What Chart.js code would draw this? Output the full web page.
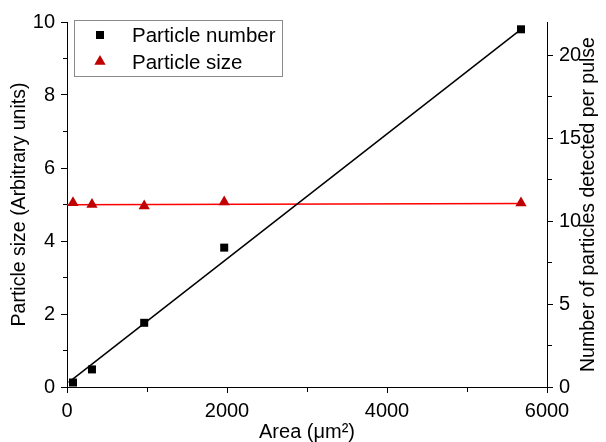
<!DOCTYPE html>
<html>
<head>
<meta charset="utf-8">
<title>Particle number and size vs area</title>
<script src="https://cdn.jsdelivr.net/npm/chart.js@4.4.1/dist/chart.umd.min.js"></script>
<style>
  html, body { margin: 0; padding: 0; background: #fff; }
  #wrap { width: 606px; height: 442px; }
</style>
</head>
<body>
<div id="wrap"><canvas id="areaChart"></canvas></div>
<script>
// values
const areas = [75, 312, 965, 1965, 5675];
const particleNumber = [0.27, 1.06, 3.87, 8.40, 21.56]; // right axis
const particleSize = [5.05, 5.00, 4.96, 5.07, 5.04];    // left axis

// linear fits (end points)
const numberFitX = [20, 5675];
const numberFitY = [0.28, 21.56];
const sizeFitX = [0, 5700];
const sizeFitY = [4.99, 5.03];

// labelled ticks
const xTicks = [0, 2000, 4000, 6000];
const sizeTicks = [0, 2, 4, 6, 8, 10];
const numberTicks = [0, 5, 10, 15, 20];

const legendLabels = ['Particle number', 'Particle size'];
const rightTitle = 'Number of particles detected per pulse';

const FONT = '"Liberation Sans", Arial, sans-serif';

function pts(xs, ys) {
  return xs.map((x, i) => ({ x: x, y: ys[i] }));
}

// short dashes make the unlabelled ticks look like minor ticks
function minorDash(list, fromOuter) {
  return function(c) {
    if (c.tick && list.includes(c.tick.value)) return [];
    return fromOuter ? [0, 2, 10] : [4, 10];
  };
}

const boxLegend = {
  id: 'boxLegend',
  afterDraw(chart) {
    const ctx = chart.ctx;
    ctx.save();
    ctx.strokeStyle = '#8a8a8a';
    ctx.lineWidth = 1;
    ctx.strokeRect(74.5, 20.5, 208, 56);

    ctx.fillStyle = '#000';
    Chart.helpers.drawPoint(ctx, { pointStyle: 'rect', radius: 5.66, borderWidth: 0 }, 100, 35);
    ctx.fillStyle = '#c00000';
    Chart.helpers.drawPoint(ctx, { pointStyle: 'triangle', radius: 6.5, borderWidth: 0 }, 100, 61.5);

    ctx.fillStyle = '#000';
    ctx.font = '20.5px ' + FONT;
    ctx.textAlign = 'left';
    ctx.textBaseline = 'alphabetic';
    ctx.fillText(legendLabels[0], 132, 42);
    ctx.fillText(legendLabels[1], 132, 68.5);

    // right axis title reads bottom to top
    const a = chart.chartArea;
    ctx.translate(589, (a.top + a.bottom) / 2);
    ctx.rotate(-Math.PI / 2);
    ctx.font = '19.5px ' + FONT;
    ctx.textAlign = 'center';
    ctx.textBaseline = 'middle';
    ctx.fillText(rightTitle, 0, 0);
    ctx.restore();
  }
};

function initChart() {
  const ctx = document.getElementById('areaChart').getContext('2d');
  const tickFont = { family: FONT, size: 20 };
  new Chart(ctx, {
    type: 'scatter',
    data: {
      datasets: [{
        label: legendLabels[0],
        data: pts(areas, particleNumber),
        yAxisID: 'y2',
        pointStyle: 'rect',
        pointRadius: 5.66,
        borderWidth: 0,
        backgroundColor: '#000',
        borderColor: '#000',
        order: 1
      }, {
        label: legendLabels[1],
        data: pts(areas, particleSize),
        yAxisID: 'y',
        pointStyle: 'triangle',
        pointRadius: 6.5,
        borderWidth: 0,
        backgroundColor: '#c00000',
        borderColor: '#c00000',
        order: 1
      }, {
        label: 'number fit',
        data: pts(numberFitX, numberFitY),
        yAxisID: 'y2',
        showLine: true,
        pointRadius: 0,
        borderColor: '#000',
        borderWidth: 1.5,
        order: 2
      }, {
        label: 'size fit',
        data: pts(sizeFitX, sizeFitY),
        yAxisID: 'y',
        showLine: true,
        pointRadius: 0,
        borderColor: '#ff0000',
        borderWidth: 1.5,
        order: 2
      }]
    },
    options: {
      responsive: true,
      maintainAspectRatio: false,
      animation: false,
      events: [],
      layout: { padding: { top: 22, left: 0, right: 0, bottom: 0 } },
      plugins: {
        legend: { display: false },
        tooltip: { enabled: false }
      },
      scales: {
        x: {
          type: 'linear',
          position: 'bottom',
          min: 0,
          max: 6000,
          ticks: {
            stepSize: 1000,
            autoSkip: false,
            maxRotation: 0,
            padding: 6,
            color: '#000',
            font: tickFont,
            callback: v => xTicks.includes(v) ? String(v) : ''
          },
          grid: {
            drawOnChartArea: false,
            tickLength: 6,
            tickColor: '#000',
            tickWidth: 1,
            tickBorderDash: minorDash(xTicks, false)
          },
          border: { color: '#000', width: 1 },
          title: {
            display: true,
            text: 'Area (μm²)',
            color: '#000',
            padding: { top: 0, bottom: 0 },
            font: { family: FONT, size: 20, lineHeight: 1 }
          },
          afterFit: s => { s.height = 55; }
        },
        y: {
          type: 'linear',
          position: 'left',
          min: 0,
          max: 10,
          ticks: {
            stepSize: 1,
            autoSkip: false,
            padding: 6,
            color: '#000',
            font: tickFont,
            callback: v => sizeTicks.includes(v) ? String(v) : ''
          },
          grid: {
            drawOnChartArea: false,
            tickLength: 6,
            tickColor: '#000',
            tickWidth: 1,
            tickBorderDash: minorDash(sizeTicks, true)
          },
          border: { color: '#000', width: 1 },
          title: {
            display: true,
            text: 'Particle size (Arbitrary units)',
            color: '#000',
            padding: { top: 8, bottom: 0 },
            font: { family: FONT, size: 19.5 }
          },
          afterFit: s => { s.width = 67; }
        },
        y2: {
          type: 'linear',
          position: 'right',
          min: 0,
          max: 22,
          ticks: {
            stepSize: 2.5,
            includeBounds: false,
            autoSkip: false,
            padding: 6,
            color: '#000',
            font: tickFont,
            callback: v => numberTicks.includes(v) ? String(v) : ''
          },
          grid: {
            drawOnChartArea: false,
            tickLength: 6,
            tickColor: '#000',
            tickWidth: 1,
            tickBorderDash: minorDash(numberTicks, false)
          },
          border: { color: '#000', width: 1 },
          afterFit: s => { s.width = 59; }
        }
      }
    },
    plugins: [boxLegend]
  });
}

window.addEventListener('load', initChart);
</script>
</body>
</html>
